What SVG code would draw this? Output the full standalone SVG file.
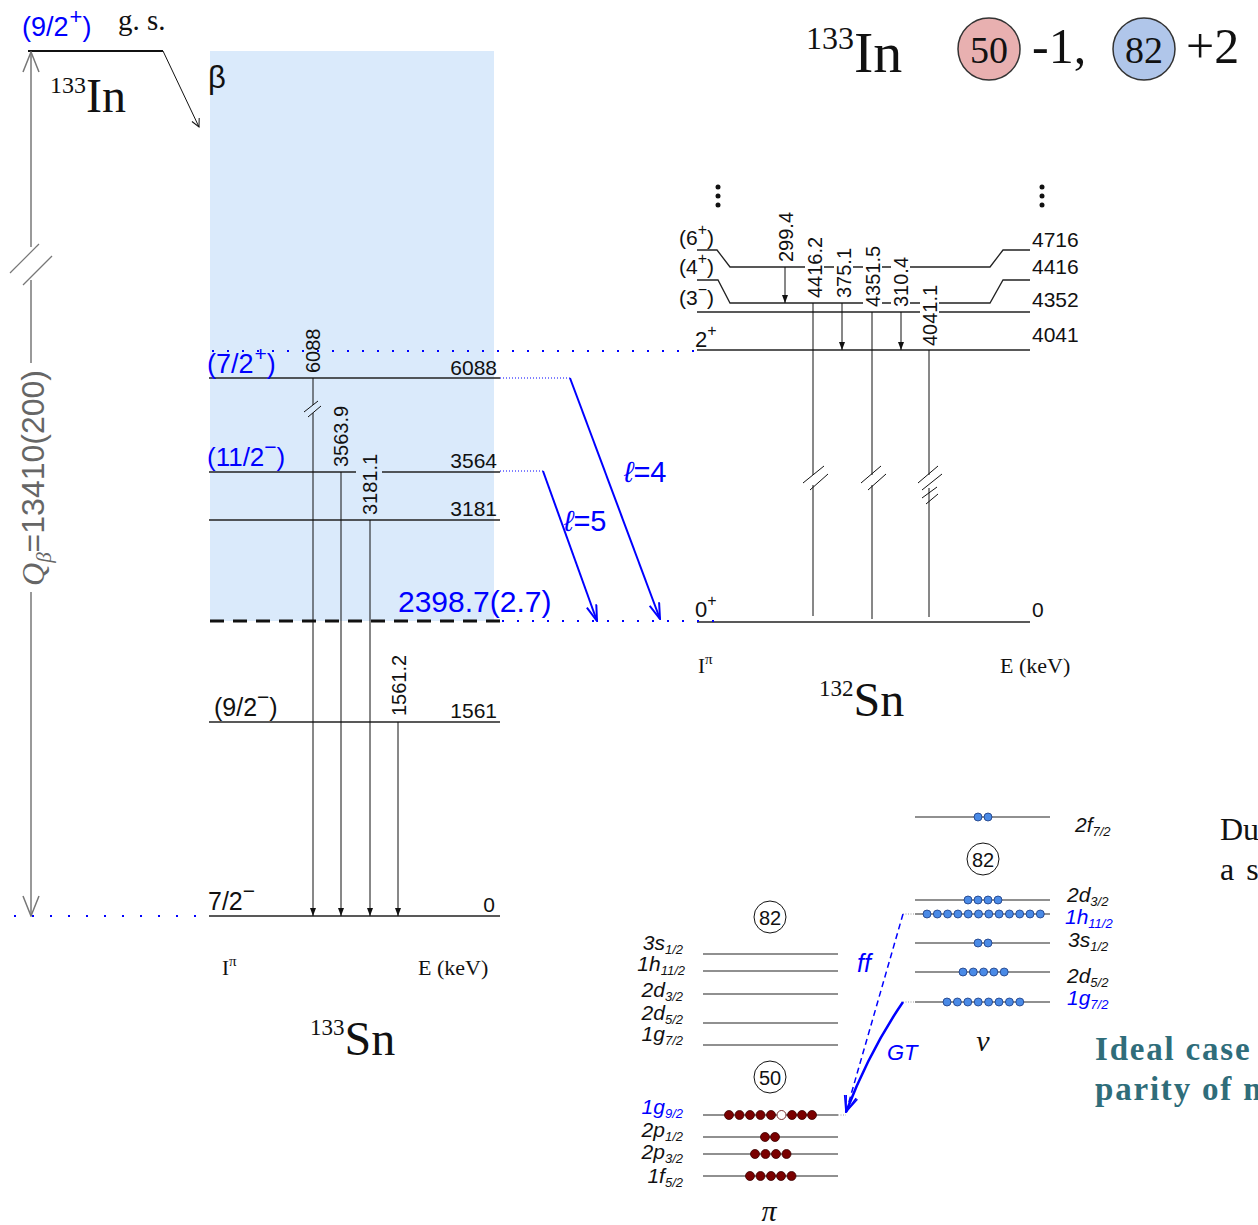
<svg xmlns="http://www.w3.org/2000/svg" width="1258" height="1225" viewBox="0 0 1258 1225">
<style>
text{font-family:"Liberation Sans",Arial,sans-serif;fill:#111}
.serif{font-family:"Liberation Serif","Times New Roman",serif}
.lvl{stroke:#222;stroke-width:1.3;fill:none}
.gam{stroke:#111;stroke-width:1;fill:none}
.bl{fill:#0000ff}
.bdot{stroke:#0000ff;stroke-width:2;stroke-dasharray:2 13;fill:none}
.fdot{stroke:#0000ff;stroke-width:1;stroke-dasharray:1 2;fill:none}
.gdot{stroke:#999;stroke-width:1;stroke-dasharray:1 1.5;fill:none}
.e{font-size:21px}
.g{font-size:20px}
.sh{font-style:italic;font-size:21px}
.pd{fill:#7a0000;stroke:#3a0000;stroke-width:0.8}
.nd{fill:#4a8ae6;stroke:#1a3a80;stroke-width:0.8}
.shl{stroke:#222;stroke-width:1.2}
.brk{stroke:#111;stroke-width:1}
.side{font-size:33px;font-weight:bold;letter-spacing:1.8px;fill:#2f6d7a}
</style>
<defs>
<marker id="ah" markerWidth="8" markerHeight="6" refX="8" refY="3" orient="auto" markerUnits="userSpaceOnUse"><path d="M0,0 L8,3 L0,6 z" fill="#111"/></marker>
<marker id="qh" markerWidth="22" markerHeight="18" refX="21" refY="9" orient="auto-start-reverse" markerUnits="userSpaceOnUse"><path d="M1,1 L21,9 L1,17" fill="none" stroke="#777" stroke-width="1.5"/></marker>
<marker id="sh" markerWidth="10" markerHeight="10" refX="9" refY="5" orient="auto" markerUnits="userSpaceOnUse"><path d="M1,1 L9,5 L1,9" fill="none" stroke="#111" stroke-width="1"/></marker>
<marker id="bh" markerWidth="18" markerHeight="12" refX="17" refY="6" orient="auto" markerUnits="userSpaceOnUse"><path d="M1,1 L17,6 L1,11" fill="none" stroke="#0000ff" stroke-width="2"/></marker>
<marker id="bh2" markerWidth="18" markerHeight="14" refX="17" refY="7" orient="auto" markerUnits="userSpaceOnUse"><path d="M1,1 L17,7 L1,13" fill="none" stroke="#0000ff" stroke-width="1.6"/></marker>
</defs>

<!-- beta window -->
<rect x="210" y="51" width="284" height="570" fill="#daeafb"/>

<!-- title -->
<g id="title">
<text class="serif" x="806" y="72"><tspan font-size="32" dy="-23">133</tspan><tspan font-size="58" dy="23">In</tspan></text>
<circle cx="989" cy="49" r="31" fill="#e8b0b0" stroke="#333" stroke-width="1.5"/>
<text class="serif" x="989" y="63" font-size="38" text-anchor="middle">50</text>
<text class="serif" x="1032" y="63" font-size="50">-1,</text>
<circle cx="1144" cy="49" r="31" fill="#b0c6ea" stroke="#333" stroke-width="1.5"/>
<text class="serif" x="1144" y="63" font-size="38" text-anchor="middle">82</text>
<text class="serif" x="1186" y="63" font-size="50">+2</text>
</g>

<!-- parent 133In -->
<g id="parent">
<text class="bl" x="22" y="36" font-size="27">(9/2<tspan font-size="22" dx="1" dy="-12">+</tspan><tspan font-size="27" dy="12">)</tspan></text>
<text class="serif" x="118" y="30" font-size="29">g. s.</text>
<line x1="28" y1="51" x2="163" y2="51" stroke="#111" stroke-width="2"/>
<text class="serif" x="50" y="112"><tspan font-size="24" dy="-19">133</tspan><tspan font-size="48" dy="19">In</tspan></text>
<text x="208" y="88" font-size="31">β</text>
</g>

<!-- Q value -->
<g id="qvalue">
<line x1="31" y1="247" x2="31" y2="52" stroke="#777" stroke-width="1.5" marker-end="url(#qh)"/>
<line x1="31" y1="280" x2="31" y2="363" stroke="#777" stroke-width="1.5"/>
<line x1="31" y1="592" x2="31" y2="916" stroke="#777" stroke-width="1.5" marker-end="url(#qh)"/>
<line x1="10" y1="273" x2="39" y2="244" stroke="#777" stroke-width="1.2"/>
<line x1="23" y1="285" x2="52" y2="256" stroke="#777" stroke-width="1.2"/>
<text transform="translate(44,478) rotate(-90)" text-anchor="middle" font-size="32" style="fill:#666"><tspan class="serif" font-style="italic">Q</tspan><tspan class="serif" font-style="italic" font-size="21" dy="7">β</tspan><tspan dy="-7">=13410(200)</tspan></text>
</g>

<!-- 133Sn levels -->
<g id="sn133-levels">
<line class="lvl" x1="209" y1="378" x2="500" y2="378"/>
<line class="lvl" x1="209" y1="472" x2="356" y2="472"/>
<line class="lvl" x1="382" y1="472" x2="500" y2="472"/>
<line class="lvl" x1="209" y1="520" x2="500" y2="520"/>
<line x1="210" y1="621" x2="500" y2="621" stroke="#111" stroke-width="3" stroke-dasharray="14 9"/>
<line class="lvl" x1="209" y1="722" x2="500" y2="722"/>
<line class="lvl" x1="209" y1="916" x2="500" y2="916"/>
<text class="bl" x="207" y="373" font-size="27">(7/2<tspan font-size="21" dx="1" dy="-12">+</tspan><tspan font-size="27" dy="12">)</tspan></text>
<text class="bl" x="207" y="466" font-size="26">(11/2<tspan font-size="21" dy="-12">−</tspan><tspan font-size="26" dy="12">)</tspan></text>
<text x="214" y="716" font-size="25">(9/2<tspan font-size="21" dy="-12">−</tspan><tspan font-size="25" dy="12">)</tspan></text>
<text x="208" y="910" font-size="25">7/2<tspan font-size="21" dy="-12">−</tspan></text>
<text class="e" x="497" y="375" text-anchor="end">6088</text>
<text class="e" x="497" y="468" text-anchor="end">3564</text>
<text class="e" x="497" y="516" text-anchor="end">3181</text>
<text class="e" x="497" y="718" text-anchor="end">1561</text>
<text class="e" x="495" y="912" text-anchor="end">0</text>
<text class="bl" x="398" y="612" font-size="30">2398.7(2.7)</text>
<text class="serif" x="222" y="975" font-size="21">I<tspan font-size="15" dy="-9">π</tspan></text>
<text class="serif" x="418" y="975" font-size="22">E (keV)</text>
<text class="serif" x="310" y="1055"><tspan font-size="23" dy="-20">133</tspan><tspan font-size="48" dy="20">Sn</tspan></text>
</g>

<!-- 133Sn gammas -->
<g id="sn133-gammas">
<line class="gam" x1="313" y1="378" x2="313" y2="405"/>
<line class="gam" x1="313" y1="413" x2="313" y2="916" marker-end="url(#ah)"/>
<line class="brk" x1="304" y1="412" x2="318" y2="401"/>
<line class="brk" x1="308" y1="417" x2="321" y2="406"/>
<line class="gam" x1="341" y1="472" x2="341" y2="916" marker-end="url(#ah)"/>
<line class="gam" x1="370" y1="520" x2="370" y2="916" marker-end="url(#ah)"/>
<line class="gam" x1="398" y1="722" x2="398" y2="916" marker-end="url(#ah)"/>
<text class="g" transform="translate(320,373) rotate(-90)">6088</text>
<text class="g" transform="translate(348,467) rotate(-90)">3563.9</text>
<text class="g" transform="translate(377,515) rotate(-90)">3181.1</text>
<text class="g" transform="translate(406,716) rotate(-90)">1561.2</text>
</g>

<!-- 132Sn levels -->
<g id="sn132-levels">
<polyline class="lvl" points="697,250 717,250 730,267 990,267 1003,250 1030,250"/>
<polyline class="lvl" points="697,280 718,280 730,303 990,303 1003,280 1030,280"/>
<line class="lvl" x1="697" y1="312" x2="1030" y2="312"/>
<line class="lvl" x1="697" y1="350" x2="1030" y2="350"/>
<line class="lvl" x1="697" y1="622" x2="1030" y2="622"/>
<text x="679" y="245" font-size="21">(6<tspan font-size="16" dy="-10">+</tspan><tspan font-size="21" dy="10">)</tspan></text>
<text x="679" y="274" font-size="21">(4<tspan font-size="16" dy="-10">+</tspan><tspan font-size="21" dy="10">)</tspan></text>
<text x="679" y="305" font-size="21">(3<tspan font-size="16" dy="-10">−</tspan><tspan font-size="21" dy="10">)</tspan></text>
<text x="695" y="347" font-size="22">2<tspan font-size="16" dy="-11">+</tspan></text>
<text x="695" y="617" font-size="22">0<tspan font-size="16" dy="-11">+</tspan></text>
<text class="e" x="1032" y="247">4716</text>
<text class="e" x="1032" y="274">4416</text>
<text class="e" x="1032" y="307">4352</text>
<text class="e" x="1032" y="342">4041</text>
<text class="e" x="1032" y="617">0</text>
<text class="serif" x="698" y="673" font-size="21">I<tspan font-size="15" dy="-9">π</tspan></text>
<text class="serif" x="1000" y="673" font-size="22">E (keV)</text>
<text class="serif" x="819" y="716"><tspan font-size="23" dy="-20">132</tspan><tspan font-size="48" dy="20">Sn</tspan></text>
<circle cx="718" cy="187" r="2.5" fill="#111"/><circle cx="718" cy="196" r="2.5" fill="#111"/><circle cx="718" cy="205" r="2.5" fill="#111"/>
<circle cx="1042" cy="187" r="2.5" fill="#111"/><circle cx="1042" cy="196" r="2.5" fill="#111"/><circle cx="1042" cy="205" r="2.5" fill="#111"/>
</g>

<!-- 132Sn gammas -->
<g id="sn132-gammas">
<line class="gam" x1="785" y1="267" x2="785" y2="303" marker-end="url(#ah)"/>
<line class="gam" x1="842" y1="303" x2="842" y2="350" marker-end="url(#ah)"/>
<line class="gam" x1="901" y1="312" x2="901" y2="350" marker-end="url(#ah)"/>
<line class="gam" x1="813" y1="303" x2="813" y2="475"/>
<line class="gam" x1="813" y1="485" x2="813" y2="616"/>
<line class="gam" x1="872" y1="312" x2="872" y2="475"/>
<line class="gam" x1="872" y1="485" x2="872" y2="619"/>
<line class="gam" x1="929" y1="350" x2="929" y2="475"/>
<line class="gam" x1="929" y1="488" x2="929" y2="617"/>
<line class="brk" x1="803" y1="483" x2="824" y2="466"/>
<line class="brk" x1="810" y1="490" x2="828" y2="474"/>
<line class="brk" x1="861" y1="483" x2="881" y2="466"/>
<line class="brk" x1="868" y1="490" x2="886" y2="474"/>
<line class="brk" x1="918" y1="483" x2="938" y2="466"/>
<line class="brk" x1="922" y1="490" x2="942" y2="474"/>
<line class="brk" x1="922" y1="498" x2="937" y2="487"/>
<line class="brk" x1="926" y1="504" x2="938" y2="494"/>
<rect x="805" y="235" width="19" height="64" fill="#fff"/>
<rect x="834" y="247" width="19" height="52" fill="#fff"/>
<rect x="863" y="243" width="19" height="65" fill="#fff"/>
<rect x="891" y="255" width="19" height="53" fill="#fff"/>
<rect x="920" y="283" width="19" height="64" fill="#fff"/>
<text class="g" transform="translate(793,262) rotate(-90)">299.4</text>
<text class="g" transform="translate(822,298) rotate(-90)">4416.2</text>
<text class="g" transform="translate(851,298) rotate(-90)">375.1</text>
<text class="g" transform="translate(880,307) rotate(-90)">4351.5</text>
<text class="g" transform="translate(908,307) rotate(-90)">310.4</text>
<text class="g" transform="translate(937,346) rotate(-90)">4041.1</text>
</g>

<!-- connectors -->
<g id="connectors">
<line x1="163" y1="51" x2="199" y2="127" stroke="#111" stroke-width="1" marker-end="url(#sh)"/>
<line class="bdot" x1="212" y1="351" x2="700" y2="351"/>
<line class="bdot" x1="502" y1="621" x2="720" y2="621"/>
<line class="bdot" x1="14" y1="916" x2="200" y2="916" style="stroke-dasharray:2 16"/>
<line class="fdot" x1="500" y1="378" x2="570" y2="378"/>
<line class="fdot" x1="500" y1="471" x2="543" y2="471"/>
<line x1="570" y1="378" x2="660" y2="619" stroke="#0000ff" stroke-width="2" marker-end="url(#bh)"/>
<line x1="543" y1="471" x2="597" y2="621" stroke="#0000ff" stroke-width="2" marker-end="url(#bh)"/>
<text class="bl" x="624" y="482" font-size="29"><tspan font-style="italic">ℓ</tspan>=4</text>
<text class="bl" x="564" y="531" font-size="29"><tspan font-style="italic">ℓ</tspan>=5</text>
<line class="gdot" x1="903" y1="914" x2="915" y2="914"/>
<line class="gdot" x1="903" y1="1002" x2="915" y2="1002"/>
<line class="gdot" x1="838" y1="1115" x2="846" y2="1115"/>
<line x1="903" y1="914" x2="846" y2="1112" stroke="#0000ff" stroke-width="1.5" stroke-dasharray="6 4" marker-end="url(#bh2)"/>
<path d="M903,1002 Q870,1050 846,1112" stroke="#0000ff" stroke-width="2.5" fill="none" marker-end="url(#bh2)"/>
<text class="bl" x="857" y="972" font-size="25" font-style="italic">ff</text>
<text class="bl" x="887" y="1060" font-size="22" font-style="italic">GT</text>
</g>

<!-- proton shells -->
<g id="proton-shells">
<circle cx="770" cy="917" r="16" fill="none" stroke="#111" stroke-width="1"/>
<text x="770" y="925" font-size="20" text-anchor="middle">82</text>
<circle cx="770" cy="1077" r="16" fill="none" stroke="#111" stroke-width="1"/>
<text x="770" y="1085" font-size="20" text-anchor="middle">50</text>
<line class="shl" x1="703" y1="954" x2="838" y2="954"/>
<line class="shl" x1="703" y1="971" x2="838" y2="971"/>
<line class="shl" x1="703" y1="994" x2="838" y2="994"/>
<line class="shl" x1="703" y1="1023" x2="838" y2="1023"/>
<line class="shl" x1="703" y1="1045" x2="838" y2="1045"/>
<line class="shl" x1="703" y1="1115" x2="838" y2="1115"/>
<line class="shl" x1="703" y1="1137" x2="838" y2="1137"/>
<line class="shl" x1="703" y1="1154" x2="838" y2="1154"/>
<line class="shl" x1="703" y1="1176" x2="838" y2="1176"/>
<text class="sh" x="683" y="950" text-anchor="end">3s<tspan font-size="13" dy="4">1/2</tspan></text>
<text class="sh" x="685" y="971" text-anchor="end">1h<tspan font-size="13" dy="4">11/2</tspan></text>
<text class="sh" x="683" y="997" text-anchor="end">2d<tspan font-size="13" dy="4">3/2</tspan></text>
<text class="sh" x="683" y="1020" text-anchor="end">2d<tspan font-size="13" dy="4">5/2</tspan></text>
<text class="sh" x="683" y="1041" text-anchor="end">1g<tspan font-size="13" dy="4">7/2</tspan></text>
<text class="sh bl" x="683" y="1114" text-anchor="end">1g<tspan font-size="13" dy="4">9/2</tspan></text>
<text class="sh" x="683" y="1137" text-anchor="end">2p<tspan font-size="13" dy="4">1/2</tspan></text>
<text class="sh" x="683" y="1159" text-anchor="end">2p<tspan font-size="13" dy="4">3/2</tspan></text>
<text class="sh" x="683" y="1183" text-anchor="end">1f<tspan font-size="13" dy="4">5/2</tspan></text>
<g>
<circle class="pd" cx="729" cy="1115" r="4.5"/><circle class="pd" cx="739.5" cy="1115" r="4.5"/><circle class="pd" cx="750" cy="1115" r="4.5"/><circle class="pd" cx="760.5" cy="1115" r="4.5"/><circle class="pd" cx="771" cy="1115" r="4.5"/><circle cx="781.5" cy="1115" r="4.5" fill="#fff" stroke="#5a0000" stroke-width="0.8"/><circle class="pd" cx="792" cy="1115" r="4.5"/><circle class="pd" cx="802" cy="1115" r="4.5"/><circle class="pd" cx="812" cy="1115" r="4.5"/>
<circle class="pd" cx="765" cy="1137" r="4.5"/><circle class="pd" cx="775" cy="1137" r="4.5"/>
<circle class="pd" cx="755" cy="1154" r="4.5"/><circle class="pd" cx="765.5" cy="1154" r="4.5"/><circle class="pd" cx="776" cy="1154" r="4.5"/><circle class="pd" cx="786.5" cy="1154" r="4.5"/>
<circle class="pd" cx="750" cy="1176" r="4.5"/><circle class="pd" cx="760.5" cy="1176" r="4.5"/><circle class="pd" cx="771" cy="1176" r="4.5"/><circle class="pd" cx="781" cy="1176" r="4.5"/><circle class="pd" cx="791.5" cy="1176" r="4.5"/>
</g>
<text class="serif" x="769" y="1221" font-size="30" font-style="italic" text-anchor="middle">π</text>
</g>

<!-- neutron shells -->
<g id="neutron-shells">
<circle cx="983" cy="859" r="16" fill="none" stroke="#111" stroke-width="1"/>
<text x="983" y="867" font-size="20" text-anchor="middle">82</text>
<line class="shl" x1="915" y1="817" x2="1050" y2="817"/>
<line class="shl" x1="915" y1="900" x2="1050" y2="900"/>
<line class="shl" x1="915" y1="914" x2="1050" y2="914"/>
<line class="shl" x1="915" y1="943" x2="1050" y2="943"/>
<line class="shl" x1="915" y1="972" x2="1050" y2="972"/>
<line class="shl" x1="915" y1="1002" x2="1050" y2="1002"/>
<text class="sh" x="1075" y="832">2f<tspan font-size="13" dy="4">7/2</tspan></text>
<text class="sh" x="1067" y="902">2d<tspan font-size="13" dy="4">3/2</tspan></text>
<text class="sh bl" x="1065" y="924">1h<tspan font-size="13" dy="4">11/2</tspan></text>
<text class="sh" x="1068" y="947">3s<tspan font-size="13" dy="4">1/2</tspan></text>
<text class="sh" x="1067" y="983">2d<tspan font-size="13" dy="4">5/2</tspan></text>
<text class="sh bl" x="1067" y="1005">1g<tspan font-size="13" dy="4">7/2</tspan></text>
<g>
<circle class="nd" cx="978" cy="817" r="4"/><circle class="nd" cx="988" cy="817" r="4"/>
<circle class="nd" cx="968" cy="900" r="4"/><circle class="nd" cx="978" cy="900" r="4"/><circle class="nd" cx="988" cy="900" r="4"/><circle class="nd" cx="998" cy="900" r="4"/>
<circle class="nd" cx="927" cy="914" r="4"/><circle class="nd" cx="937.3" cy="914" r="4"/><circle class="nd" cx="947.6" cy="914" r="4"/><circle class="nd" cx="957.9" cy="914" r="4"/><circle class="nd" cx="968.2" cy="914" r="4"/><circle class="nd" cx="978.5" cy="914" r="4"/><circle class="nd" cx="988.8" cy="914" r="4"/><circle class="nd" cx="999.1" cy="914" r="4"/><circle class="nd" cx="1009.4" cy="914" r="4"/><circle class="nd" cx="1019.7" cy="914" r="4"/><circle class="nd" cx="1030" cy="914" r="4"/><circle class="nd" cx="1040.3" cy="914" r="4"/>
<circle class="nd" cx="978" cy="943" r="4"/><circle class="nd" cx="988" cy="943" r="4"/>
<circle class="nd" cx="963" cy="972" r="4"/><circle class="nd" cx="973.3" cy="972" r="4"/><circle class="nd" cx="983.6" cy="972" r="4"/><circle class="nd" cx="993.9" cy="972" r="4"/><circle class="nd" cx="1004.2" cy="972" r="4"/>
<circle class="nd" cx="947" cy="1002" r="4"/><circle class="nd" cx="957.4" cy="1002" r="4"/><circle class="nd" cx="967.8" cy="1002" r="4"/><circle class="nd" cx="978.2" cy="1002" r="4"/><circle class="nd" cx="988.6" cy="1002" r="4"/><circle class="nd" cx="999" cy="1002" r="4"/><circle class="nd" cx="1009.4" cy="1002" r="4"/><circle class="nd" cx="1019.8" cy="1002" r="4"/>
</g>
<text class="serif" x="983" y="1051" font-size="30" font-style="italic" text-anchor="middle">ν</text>
</g>

<!-- side text -->
<g id="sidetext">
<text class="serif" x="1220" y="840" font-size="32">Du</text>
<text class="serif" x="1220" y="880" font-size="32" letter-spacing="2">a s</text>
<text class="serif side" x="1095" y="1060">Ideal case</text>
<text class="serif side" x="1095" y="1100">parity of n</text>
</g>
</svg>
